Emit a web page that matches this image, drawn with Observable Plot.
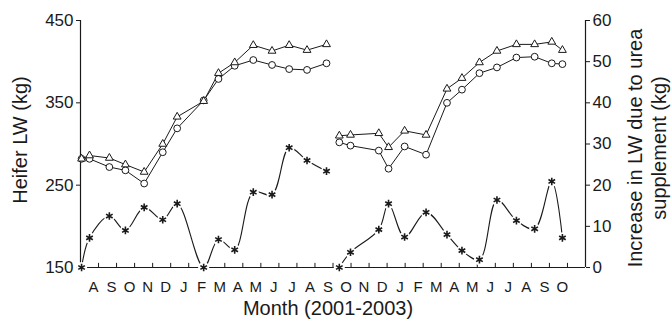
<!DOCTYPE html>
<html><head><meta charset="utf-8">
<script src="https://cdn.jsdelivr.net/npm/d3@7"></script>
<script src="https://cdn.jsdelivr.net/npm/@observablehq/plot@0.6"></script>
<style>body{margin:0;background:#fff}</style>
</head><body><div id="chart"></div>
<script>
// x positions in months from the start of the record (July 2001)
const seg1Months = [0.06, 0.5, 1.6, 2.49, 3.53, 4.56, 5.36, 6.83, 7.65, 8.55, 9.58, 10.62, 11.57, 12.56, 13.64];
const seg2Months = [14.35, 14.97, 16.54, 17.08, 17.97, 19.16, 20.32, 21.15, 22.12, 23.09, 24.17, 25.18, 26.13, 26.72];
// Heifer LW (kg), left axis
const ureaLW1 = [282, 286, 283, 275, 266, 300, 333, 352, 386, 399, 420, 413, 420, 414, 421];
const controlLW1 = [282, 282, 272, 268, 252, 290, 319, 353, 379, 395, 402, 396, 391, 390, 398];
const ureaLW2 = [310, 311, 313, 296, 316, 311, 367, 380, 399, 413, 421, 421, 424, 414];
const controlLW2 = [302, 298, 292, 270, 297, 287, 350, 366, 386, 393, 405, 406, 398, 397];
// Increase in LW due to urea supplement (kg), right axis
const increase1 = [0, 7.2, 12.5, 9.0, 14.6, 11.6, 15.5, 0, 6.8, 4.3, 18.3, 17.7, 29.1, 26.0, 23.4];
const increase2 = [0, 3.7, 9.2, 15.5, 7.4, 13.4, 8.0, 4.1, 1.9, 16.4, 11.4, 9.4, 20.9, 7.2];
// axes
const monthLabels = ["A","S","O","N","D","J","F","M","A","M","J","J","A","S","O","N","D","J","F","M","A","M","J","J","A","S","O"];
const leftTicks = [150, 250, 350, 450];
const rightTicks = [0, 10, 20, 30, 40, 50, 60];

const toLeft = v => 150 + 5 * v; // right-axis value -> left-axis units

function rows(months, values, seg, map = v => v) {
  return months.map((m, i) => ({m, v: map(values[i]), seg}));
}
const urea = [...rows(seg1Months, ureaLW1, 1), ...rows(seg2Months, ureaLW2, 2)];
const control = [...rows(seg1Months, controlLW1, 1), ...rows(seg2Months, controlLW2, 2)];
const inc = [...rows(seg1Months, increase1, 1, toLeft), ...rows(seg2Months, increase2, 2, toLeft)];
const tickPos = monthLabels.map((d, i) => i + 1);
const ink = "#1a1a1a";

const chart = Plot.plot({
  width: 671, height: 321,
  marginLeft: 80, marginRight: 86, marginTop: 20, marginBottom: 54,
  style: {fontFamily: "'Liberation Sans', Arial, sans-serif", background: "white", color: ink},
  x: {domain: [0, 28], axis: null},
  y: {domain: [150, 450]},
  marks: [
    Plot.axisY({anchor: "left", ticks: leftTicks, tickSize: 4, tickPadding: 3, fontSize: 17, label: null}),
    Plot.axisY({anchor: "right", ticks: rightTicks.map(toLeft), tickFormat: d => String(Math.round((d - 150) / 5)), tickSize: 4, tickPadding: 3, fontSize: 17, label: null}),
    Plot.ruleX([0], {y1: 150, y2: 450, stroke: ink, strokeWidth: 1.2}),
    Plot.ruleX([28], {y1: 150, y2: 450, stroke: ink, strokeWidth: 1.2}),
    Plot.ruleY([150], {x1: 0, x2: 28, stroke: ink, strokeWidth: 1.2}),
    Plot.ruleX(tickPos, {x: d => d, y1: 150, y2: 155, stroke: ink}),
    Plot.text(monthLabels, {x: (d, i) => i + 0.72, y: 150, dy: 20, text: d => d, fontSize: 15}),
    // LW lines
    Plot.line(urea, {x: "m", y: "v", z: "seg", stroke: ink, strokeWidth: 1}),
    Plot.line(control, {x: "m", y: "v", z: "seg", stroke: ink, strokeWidth: 1}),
    Plot.dot(control, {x: "m", y: "v", symbol: "circle", r: 3.4, fill: "white", stroke: ink, strokeWidth: 1}),
    Plot.dot(urea, {x: "m", y: "v", symbol: "triangle", r: 2.9, fill: "white", stroke: ink, strokeWidth: 1}),
    // increase line
    Plot.line(inc, {x: "m", y: "v", z: "seg", stroke: ink, strokeWidth: 1.1, curve: "catmull-rom"}),
    Plot.dot(inc, {x: "m", y: "v", r: 5.5, fill: "white", stroke: null}),
    Plot.dot(inc, {x: "m", y: "v", symbol: "asterisk", r: 3.6, stroke: ink, strokeWidth: 1.6}),
    // titles
    Plot.text(["Heifer LW (kg)"], {frameAnchor: "left", dx: -60, dy: -4, rotate: -90, textAnchor: "middle", lineAnchor: "middle", fontSize: 20}),
    Plot.text(["Increase in LW due to urea"], {frameAnchor: "right", dx: 50, dy: 4, rotate: -90, textAnchor: "middle", lineAnchor: "middle", fontSize: 20}),
    Plot.text(["supplement (kg)"], {frameAnchor: "right", dx: 74, dy: 4, rotate: -90, textAnchor: "middle", lineAnchor: "middle", fontSize: 20}),
    Plot.text(["Month (2001-2003)"], {frameAnchor: "bottom", dx: -5, dy: 41, textAnchor: "middle", lineAnchor: "middle", fontSize: 20})
  ]
});
document.getElementById("chart").append(chart);
</script>
</body></html>
